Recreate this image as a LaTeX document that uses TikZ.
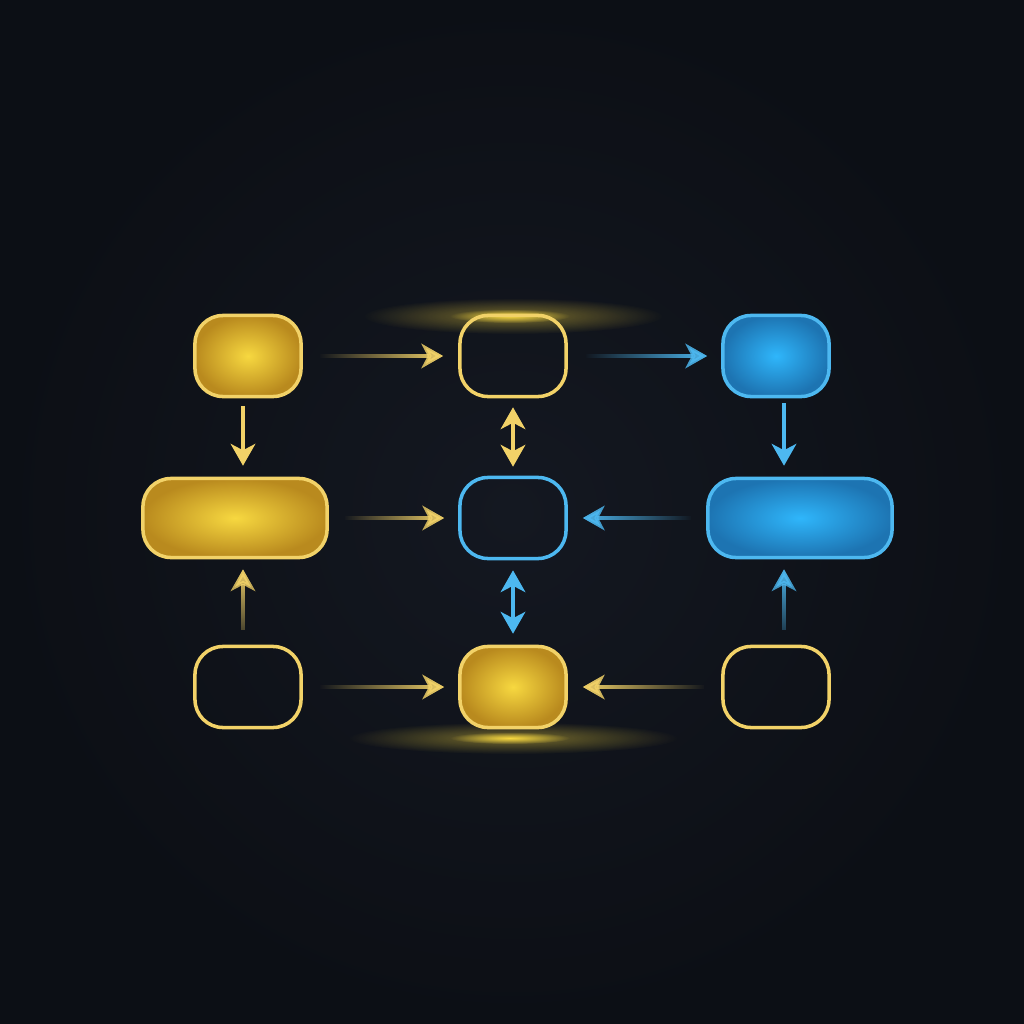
\documentclass[tikz,border=0pt]{standalone}
\usetikzlibrary{arrows.meta,fadings,calc}
\definecolor{bgin}{HTML}{141821}
\definecolor{bgout}{HTML}{0C0F15}
\definecolor{goldline}{HTML}{F2D268}
\definecolor{goldin}{HTML}{F7D840}
\definecolor{goldout}{HTML}{B98A1E}
\definecolor{blueline}{HTML}{4DB8F0}
\definecolor{bluein}{HTML}{2FB6FB}
\definecolor{blueout}{HTML}{1D74B2}
\tikzfading[name=glowfade, inner color=transparent!0, outer color=transparent!100]
\tikzset{
  box/.style={rounded corners=0.28cm, line width=1pt, minimum width=1.06cm,
              minimum height=0.81cm, inner sep=0pt},
  widebox/.style={box, minimum width=1.84cm, minimum height=0.79cm},
  gfill/.style={draw=goldline, inner color=goldin, outer color=goldout},
  gline/.style={draw=goldline},
  bfill/.style={draw=blueline, inner color=bluein, outer color=blueout},
  bline/.style={draw=blueline},
  tip/.tip={Stealth[length=6.2pt,width=7pt,inset=1.8pt]},
  arr/.style={line width=1pt, -tip},
  darr/.style={line width=1pt, tip-tip},
}
\begin{document}
\begin{tikzpicture}[x=0.01cm,y=-0.01cm]
\shade[inner color=bgin, outer color=bgout] (0,0) rectangle (1024,1024);
\useasboundingbox (0,0) rectangle (1024,1024);

% glows
\fill[goldin, path fading=glowfade, opacity=0.45] (513,316) ellipse [x radius=150, y radius=18];
\fill[goldin, path fading=glowfade, opacity=1] (510,316) ellipse [x radius=60, y radius=7];
\fill[goldin, path fading=glowfade, opacity=0.45] (513,738) ellipse [x radius=165, y radius=16];
\fill[goldin, path fading=glowfade, opacity=1] (510,738) ellipse [x radius=60, y radius=6];

% nodes
\node[box, gfill] (A) at (248,356) {};
\node[box, gline] (B) at (513,356) {};
\node[box, bfill] (C) at (776,356) {};
\node[widebox, gfill] (D) at (235,518) {};
\node[box, bline] (E) at (513,518) {};
\node[widebox, bfill] (F) at (800,518) {};
\node[box, gline] (G) at (248,687) {};
\node[box, gfill] (H) at (513,687) {};
\node[box, gline] (I) at (776,687) {};

% horizontal connectors (faded tails)
\draw[arr, goldline, path fading=west] ([xshift=0.17cm,yshift=6pt]A.east) ([xshift=0.17cm,yshift=-6pt]A.east) ([xshift=0.17cm]A.east) -- ([xshift=-0.15cm]B.west);
\draw[arr, blueline, path fading=west] ([xshift=0.18cm,yshift=6pt]B.east) ([xshift=0.18cm,yshift=-6pt]B.east) ([xshift=0.18cm]B.east) -- ([xshift=-0.14cm]C.west);
\draw[arr, goldline, path fading=west] ([xshift=0.16cm,yshift=6pt]D.east) ([xshift=0.16cm,yshift=-6pt]D.east) ([xshift=0.16cm]D.east) -- ([xshift=-0.14cm]E.west);
\draw[arr, blueline, path fading=east] ([xshift=-0.15cm,yshift=6pt]F.west) ([xshift=-0.15cm,yshift=-6pt]F.west) ([xshift=-0.15cm]F.west) -- ([xshift=0.15cm]E.east);
\draw[arr, goldline, path fading=west] ([xshift=0.17cm,yshift=6pt]G.east) ([xshift=0.17cm,yshift=-6pt]G.east) ([xshift=0.17cm]G.east) -- ([xshift=-0.14cm]H.west);
\draw[arr, goldline, path fading=east] ([xshift=-0.17cm,yshift=6pt]I.west) ([xshift=-0.17cm,yshift=-6pt]I.west) ([xshift=-0.17cm]I.west) -- ([xshift=0.15cm]H.east);

% vertical connectors
\draw[arr, goldline] ([xshift=-0.05cm,yshift=-0.08cm]A.south) -- ([xshift=-0.05cm,yshift=0.11cm]A.south |- D.north);
\draw[darr, goldline] ([yshift=-0.09cm]B.south) -- ([yshift=0.09cm]E.north);
\draw[arr, blueline] ([xshift=0.08cm,yshift=-0.05cm]C.south) -- ([xshift=0.08cm,yshift=0.11cm]C.south |- F.north);
\draw[arr, goldline, path fading=south] ([xshift=-0.05cm-6pt,yshift=-0.06cm]G.north) ([xshift=-0.05cm+6pt,yshift=-0.06cm]G.north) ([xshift=-0.05cm,yshift=0.15cm]G.north) -- ([xshift=-0.05cm,yshift=-0.10cm]G.north |- D.south);
\draw[darr, blueline] ([yshift=-0.10cm]E.south) -- ([yshift=0.11cm]H.north);
\draw[arr, blueline, path fading=south] ([xshift=0.08cm-6pt,yshift=-0.06cm]I.north) ([xshift=0.08cm+6pt,yshift=-0.06cm]I.north) ([xshift=0.08cm,yshift=0.15cm]I.north) -- ([xshift=0.08cm,yshift=-0.10cm]I.north |- F.south);
\end{tikzpicture}
\end{document}
